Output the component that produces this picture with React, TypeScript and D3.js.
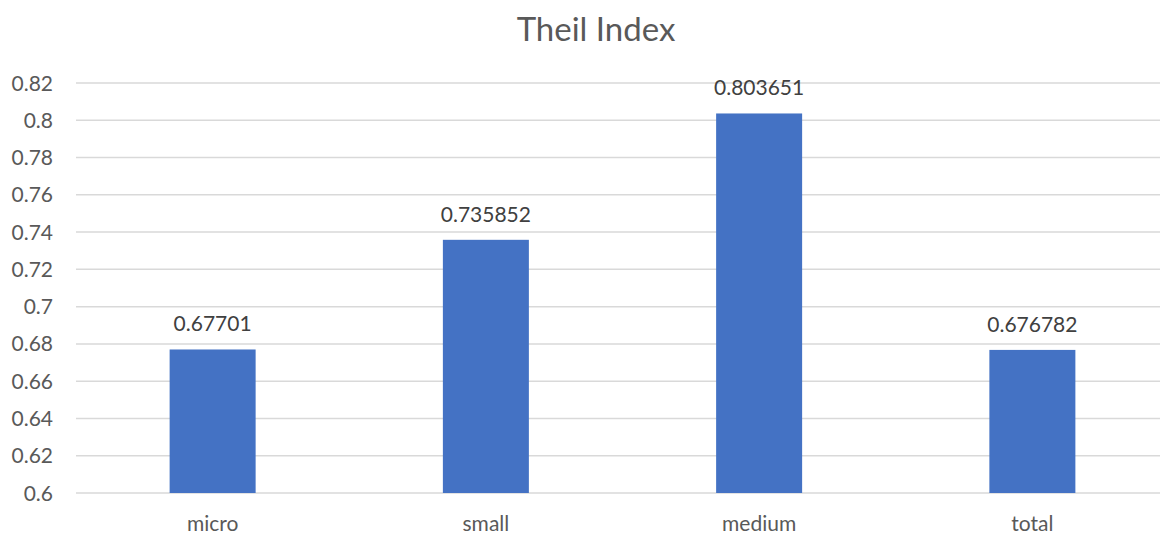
import React from "react";
import * as d3 from "d3";

const categories = ["micro", "small", "medium", "total"];
const values = [0.67701, 0.735852, 0.803651, 0.676782];
const valueLabels = ["0.67701", "0.735852", "0.803651", "0.676782"];
const yTicks = [0.6, 0.62, 0.64, 0.66, 0.68, 0.7, 0.72, 0.74, 0.76, 0.78, 0.8, 0.82];
const title = "Theil Index";

const W = 1160;
const H = 534;
const FONT = "Lato, 'Open Sans', sans-serif";

export default function App() {
  const left = 76;
  const right = 1169;
  const top = 83;
  const bottom = 493;
  const x = d3.scaleBand<string>().domain(categories).range([left, right]).paddingInner(0).paddingOuter(0);
  const y = d3.scaleLinear().domain([0.6, 0.82]).range([bottom, top]);
  const bw = 86;
  return (
    <svg width={W} height={H} style={{ position: "absolute", left: 0, top: 0, background: "#fff" }}>
      <rect width={W} height={H} fill="#fff" />
      <text x={596} y={41} textAnchor="middle" fontFamily={FONT} fontSize={33} fill="#595959">
        {title}
      </text>
      {yTicks.map((t) => (
        <g key={t}>
          <line x1={left} x2={W} y1={y(t)} y2={y(t)} stroke="#d9d9d9" strokeWidth={1.5} />
          <text x={53} y={y(t) + 7.5} textAnchor="end" fontFamily={FONT} fontSize={21} fill="#595959">
            {d3.format("")(+t.toFixed(2))}
          </text>
        </g>
      ))}
      {categories.map((c, i) => {
        const cx = (x(c) as number) + x.bandwidth() / 2;
        return (
          <g key={c}>
            <rect x={cx - bw / 2} y={y(values[i])} width={bw} height={bottom - y(values[i])} fill="#4472c4" />
            <text x={cx} y={y(values[i]) - 18} textAnchor="middle" fontFamily={FONT} fontSize={21} fill="#404040">
              {valueLabels[i]}
            </text>
            <text x={cx} y={531} textAnchor="middle" fontFamily={FONT} fontSize={21} fill="#595959">
              {c}
            </text>
          </g>
        );
      })}
    </svg>
  );
}
